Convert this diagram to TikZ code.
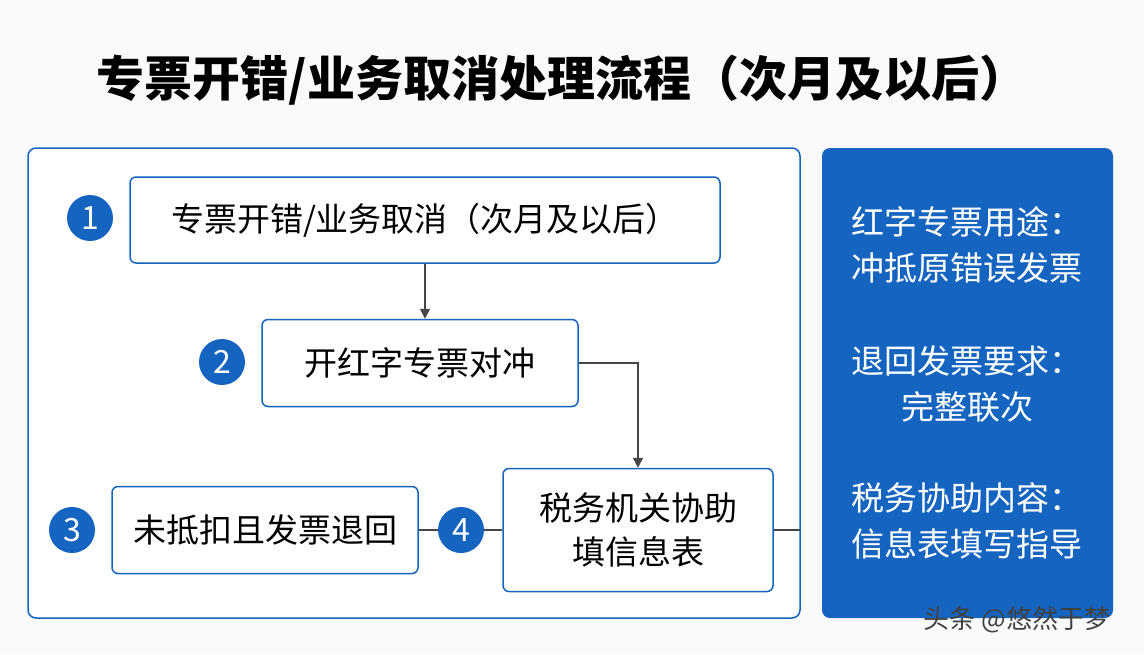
\documentclass[tikz,border=0pt]{standalone}
\usepackage{fontspec}
\setmainfont{Noto Sans CJK SC}
\usetikzlibrary{arrows.meta}
\definecolor{flow_blue}{RGB}{21, 101, 192}
\definecolor{flow_line}{RGB}{70, 70, 70}
\definecolor{flow_bg}{RGB}{248, 250, 252}
\tikzstyle{fbox}=[draw=flow_blue,fill=white,line width=1.5pt,rounded corners=6pt,
  font=\fontsize{33}{44}\selectfont,align=center,inner sep=0pt]
\tikzstyle{num}=[circle,fill=flow_blue,text=white,inner sep=0pt,minimum size=46pt,
  font=\fontsize{32}{34}\selectfont]
\tikzstyle{tip}=[text=white,font=\fontsize{33}{46}\selectfont,align=center]

\begin{document}
\begin{tikzpicture}[x=1pt,y=-1pt]
    \fill[flow_bg] (0,0) rectangle (1144,654);
    \useasboundingbox (0,0) rectangle (1144,654);
    \node [font=\fontsize{48}{54}\selectfont\bfseries] (title) at (562,80) {专票开错/业务取消处理流程（次月及以后）};
    \draw [draw=flow_blue,line width=1.5pt,rounded corners=8pt,fill=white] (28,148) rectangle (800,618);
    \coordinate (edge) at (800,530);
    \node [fbox,minimum width=590pt,minimum height=86pt] (1b) at (425,220) {专票开错/业务取消（次月及以后）};
    \node [fbox,minimum width=316pt,minimum height=87pt] (2b) at (420,363) {开红字专票对冲};
    \node [fbox,minimum width=306pt,minimum height=87pt] (3b) at (265,530) {未抵扣且发票退回};
    \node [fbox,minimum width=270pt,minimum height=123pt] (4b) at (638,530) {税务机关协助\\填信息表};
    \node [style=num] (1n) at (90,218) {1};
    \node [style=num] (2n) at (222,362) {2};
    \node [style=num] (3n) at (72,530) {3};
    \node [style=num] (4n) at (461,530) {4};
    \draw [flow_line,line width=1.5pt,-{Triangle[length=10pt,width=10pt]}] (1b.south) to (1b.south |- 2b.north);
    \draw [flow_line,line width=1.5pt,-{Triangle[length=10pt,width=10pt]}] (2b.east) -| (4b.north);
    \draw [flow_line,line width=1.5pt] (3b.east) to (4n);
    \draw [flow_line,line width=1.5pt] (4n) to (4b.west);
    \draw [flow_line,line width=1.5pt] (4b.east) to (edge);
    \fill [flow_blue,rounded corners=8pt] (822,148) rectangle (1113,618);
    \node [style=tip] (t1) at (967,245) {红字专票用途：\\冲抵原错误发票};
    \node [style=tip] (t2) at (967,384) {退回发票要求：\\完整联次};
    \node [style=tip] (t3) at (967,521) {税务协助内容：\\信息表填写指导};
    \node [text=black!75,font=\fontsize{26}{28}\selectfont] (mark) at (1017,620) {头条 @悠然于梦};
\end{tikzpicture}
\end{document}
